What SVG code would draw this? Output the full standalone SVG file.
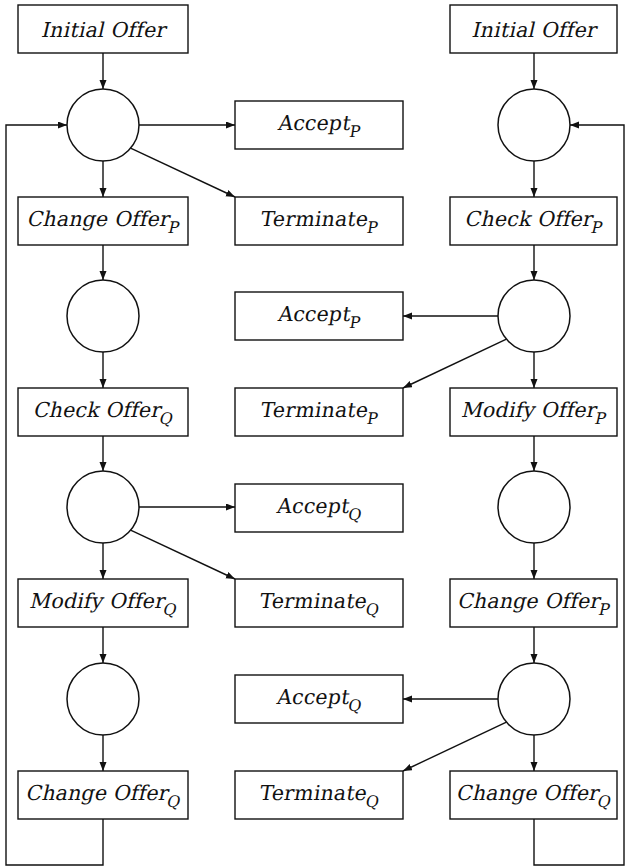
<svg xmlns="http://www.w3.org/2000/svg" width="625" height="867" viewBox="0 0 625 867">
  <style>
    .box { fill: #fff; stroke: #111; stroke-width: 1.4; }
    .place { fill: #fff; stroke: #111; stroke-width: 1.5; }
    .edge { fill: none; stroke: #111; stroke-width: 1.4; }
    .arr { marker-end: url(#head); }
    .lbl { font-family: "DejaVu Serif", "Liberation Serif", "Times New Roman", serif; font-size: 20.5px; letter-spacing: 0.2px; fill: #111; text-anchor: middle; }
    .sub { font-size: 16px; letter-spacing: 0; }
  </style>
  <defs>
    <marker id="head" markerUnits="userSpaceOnUse" markerWidth="10" markerHeight="8" refX="9" refY="3.5" orient="auto">
      <path d="M0,0 L9,3.5 L0,7 z" fill="#111"/>
    </marker>
  </defs>
  <rect width="625" height="867" fill="#fff"/>

  <!-- connectors -->
  <g id="connectors">
    <!-- left net -->
    <line class="edge arr" x1="103" y1="53" x2="103" y2="89"/>
    <line class="edge arr" x1="139" y1="125" x2="235" y2="125"/>
    <line class="edge arr" x1="130.6" y1="148.1" x2="235" y2="197"/>
    <line class="edge arr" x1="103" y1="161" x2="103" y2="197"/>
    <line class="edge arr" x1="103" y1="245" x2="103" y2="280"/>
    <line class="edge arr" x1="103" y1="352" x2="103" y2="388"/>
    <line class="edge arr" x1="103" y1="436" x2="103" y2="471"/>
    <line class="edge arr" x1="139" y1="507" x2="235" y2="507"/>
    <line class="edge arr" x1="130.6" y1="530.1" x2="235" y2="579"/>
    <line class="edge arr" x1="103" y1="543" x2="103" y2="579"/>
    <line class="edge arr" x1="103" y1="627" x2="103" y2="663"/>
    <line class="edge arr" x1="103" y1="735" x2="103" y2="771"/>
    <polyline class="edge arr" points="103,819 103,865 6,865 6,125 67,125"/>

    <!-- right net -->
    <line class="edge arr" x1="534" y1="53" x2="534" y2="89"/>
    <line class="edge arr" x1="534" y1="161" x2="534" y2="197"/>
    <line class="edge arr" x1="534" y1="245" x2="534" y2="280"/>
    <line class="edge arr" x1="498" y1="316" x2="403" y2="316"/>
    <line class="edge arr" x1="506.4" y1="339.1" x2="403" y2="388"/>
    <line class="edge arr" x1="534" y1="352" x2="534" y2="388"/>
    <line class="edge arr" x1="534" y1="436" x2="534" y2="471"/>
    <line class="edge arr" x1="534" y1="543" x2="534" y2="579"/>
    <line class="edge arr" x1="534" y1="627" x2="534" y2="663"/>
    <line class="edge arr" x1="498" y1="699" x2="403" y2="699"/>
    <line class="edge arr" x1="506.4" y1="722.1" x2="403" y2="771"/>
    <line class="edge arr" x1="534" y1="735" x2="534" y2="771"/>
    <polyline class="edge arr" points="534,819 534,865 624,865 624,125 570,125"/>
  </g>

  <!-- left column (labels slanted about their baseline) -->
  <g id="left-initial"><rect class="box" x="18" y="5" width="170" height="48"/><text class="lbl" transform="translate(103,37) skewX(-13)">Initial Offer</text></g>
  <g id="left-p1"><circle class="place" cx="103" cy="125" r="36"/></g>
  <g id="left-change-p"><rect class="box" x="18" y="197" width="170" height="48"/><text class="lbl" transform="translate(103,226) skewX(-13)">Change Offer<tspan class="sub" dy="7">P</tspan></text></g>
  <g id="left-p2"><circle class="place" cx="103" cy="316" r="36"/></g>
  <g id="left-check-q"><rect class="box" x="18" y="388" width="170" height="48"/><text class="lbl" transform="translate(103,417) skewX(-13)">Check Offer<tspan class="sub" dy="7">Q</tspan></text></g>
  <g id="left-p3"><circle class="place" cx="103" cy="507" r="36"/></g>
  <g id="left-modify-q"><rect class="box" x="18" y="579" width="170" height="48"/><text class="lbl" transform="translate(103,608) skewX(-13)">Modify Offer<tspan class="sub" dy="7">Q</tspan></text></g>
  <g id="left-p4"><circle class="place" cx="103" cy="699" r="36"/></g>
  <g id="left-change-q"><rect class="box" x="18" y="771" width="170" height="48"/><text class="lbl" transform="translate(103,800) skewX(-13)">Change Offer<tspan class="sub" dy="7">Q</tspan></text></g>

  <!-- middle column -->
  <g id="accept-p-1"><rect class="box" x="235" y="101" width="168" height="48"/><text class="lbl" transform="translate(319,130) skewX(-9)">Accept<tspan class="sub" dy="7">P</tspan></text></g>
  <g id="terminate-p-1"><rect class="box" x="235" y="197" width="168" height="48"/><text class="lbl" transform="translate(319,226) skewX(-9)">Terminate<tspan class="sub" dy="7">P</tspan></text></g>
  <g id="accept-p-2"><rect class="box" x="235" y="292" width="168" height="48"/><text class="lbl" transform="translate(319,321) skewX(-9)">Accept<tspan class="sub" dy="7">P</tspan></text></g>
  <g id="terminate-p-2"><rect class="box" x="235" y="388" width="168" height="48"/><text class="lbl" transform="translate(319,417) skewX(-9)">Terminate<tspan class="sub" dy="7">P</tspan></text></g>
  <g id="accept-q-1"><rect class="box" x="235" y="484" width="168" height="48"/><text class="lbl" transform="translate(319,513) skewX(-9)">Accept<tspan class="sub" dy="7">Q</tspan></text></g>
  <g id="terminate-q-1"><rect class="box" x="235" y="579" width="168" height="48"/><text class="lbl" transform="translate(319,608) skewX(-9)">Terminate<tspan class="sub" dy="7">Q</tspan></text></g>
  <g id="accept-q-2"><rect class="box" x="235" y="675" width="168" height="48"/><text class="lbl" transform="translate(319,704) skewX(-9)">Accept<tspan class="sub" dy="7">Q</tspan></text></g>
  <g id="terminate-q-2"><rect class="box" x="235" y="771" width="168" height="48"/><text class="lbl" transform="translate(319,800) skewX(-9)">Terminate<tspan class="sub" dy="7">Q</tspan></text></g>

  <!-- right column -->
  <g id="right-initial"><rect class="box" x="450" y="5" width="167" height="48"/><text class="lbl" transform="translate(533.5,37) skewX(-13)">Initial Offer</text></g>
  <g id="right-p1"><circle class="place" cx="534" cy="125" r="36"/></g>
  <g id="right-check-p"><rect class="box" x="450" y="197" width="167" height="48"/><text class="lbl" transform="translate(533.5,226) skewX(-13)">Check Offer<tspan class="sub" dy="7">P</tspan></text></g>
  <g id="right-p2"><circle class="place" cx="534" cy="316" r="36"/></g>
  <g id="right-modify-p"><rect class="box" x="450" y="388" width="167" height="48"/><text class="lbl" transform="translate(533.5,417) skewX(-13)">Modify Offer<tspan class="sub" dy="7">P</tspan></text></g>
  <g id="right-p3"><circle class="place" cx="534" cy="507" r="36"/></g>
  <g id="right-change-p"><rect class="box" x="450" y="579" width="167" height="48"/><text class="lbl" transform="translate(533.5,608) skewX(-13)">Change Offer<tspan class="sub" dy="7">P</tspan></text></g>
  <g id="right-p4"><circle class="place" cx="534" cy="699" r="36"/></g>
  <g id="right-change-q"><rect class="box" x="450" y="771" width="167" height="48"/><text class="lbl" transform="translate(533.5,800) skewX(-13)">Change Offer<tspan class="sub" dy="7">Q</tspan></text></g>
</svg>
